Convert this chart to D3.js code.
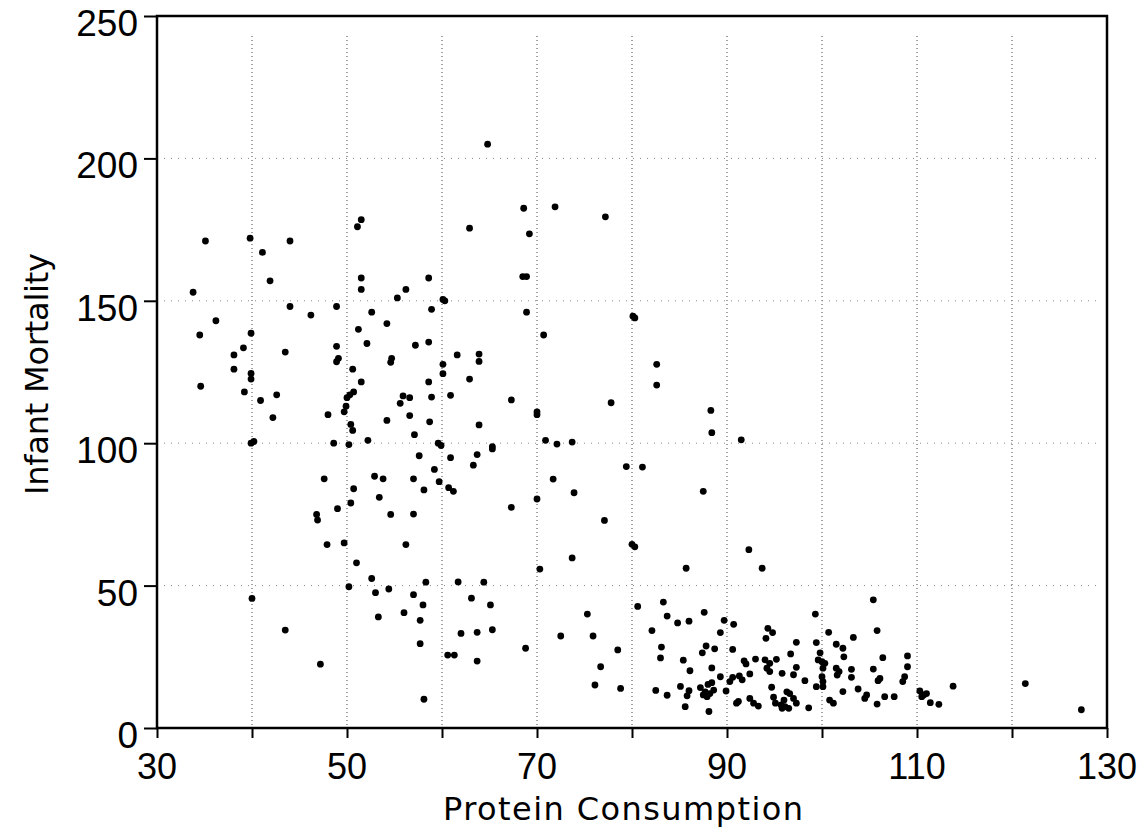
<!DOCTYPE html>
<html>
<head>
<meta charset="utf-8">
<script src="https://cdn.jsdelivr.net/npm/d3@7"></script>
<style>
  body { margin: 0; background: #fff; }
  svg { display: block; }
</style>
</head>
<body>
<svg id="chart" width="1141" height="833"></svg>
<script>
// protein consumption (x) and infant mortality (y)
const protein = [
  35.1, 39.8, 44.0, 41.1, 51.5, 51.1, 41.9, 33.8, 51.5, 51.5, 56.2, 55.3, 44.0, 48.9, 46.2, 52.6,
  54.2, 36.2, 34.5, 39.9, 51.2, 52.1, 48.9, 39.1, 38.1, 43.5, 48.9, 49.1, 54.7, 54.6, 50.6, 38.1,
  39.9, 39.9, 51.5, 34.6, 39.2, 42.6, 40.9, 50.0, 50.7, 50.3, 49.9, 49.7, 55.9, 55.6, 56.6, 42.2,
  48.0, 54.2, 50.4, 50.6,
  64.8, 68.6, 71.9, 77.2, 62.9, 69.2, 58.6, 68.5, 68.9, 60.1, 60.3, 58.9, 68.9, 80.3, 80.1, 70.7,
  57.2, 58.6, 61.6, 63.9, 63.9, 60.1, 60.1, 62.9, 58.6, 82.6, 82.6, 58.9, 56.6, 58.7, 63.9, 60.9,
  67.3, 77.8, 70.0, 70.0,
  39.9, 40.2, 48.6, 50.2, 52.2, 47.6, 52.9, 53.8, 50.7, 53.4, 50.4, 49.0, 46.8, 46.9, 54.6, 47.9,
  49.7, 56.2, 51.0, 52.6, 50.2, 53.0, 54.4, 40.0, 56.0, 53.3, 43.5, 47.2,
  57.1, 59.6, 59.9, 65.3, 65.3, 57.6, 60.9, 63.7, 63.3, 59.2, 57.0, 59.7, 60.7, 61.2, 58.1, 57.0,
  67.3, 70.9, 72.1, 73.7, 71.7, 70.0, 73.9, 77.1, 79.4, 81.1, 80.0, 80.3, 73.7, 70.3, 58.3, 61.7,
  64.4, 57.0, 58.0, 63.1, 65.1, 57.7, 62.0, 63.7, 65.3, 57.7, 60.6, 61.3, 63.7, 58.1, 68.8, 75.3,
  80.6, 72.5, 75.9, 78.5, 76.7, 76.1, 78.8, 82.5, 82.1,
  88.3, 88.4, 91.5, 87.5, 92.3, 85.7, 93.7, 83.3, 105.4,
  83.7, 84.8, 86.0, 87.6, 89.7, 90.7, 89.3, 83.1, 83.0, 83.7, 85.4, 86.1, 85.1, 85.6, 86.0, 85.8,
  87.8, 87.4, 88.7, 88.4, 89.3, 87.2, 88.0, 88.4, 87.7, 88.2, 87.9, 87.5, 88.6, 88.1, 89.9, 90.6,
  90.6, 90.3, 91.3, 91.8, 92.0, 91.6, 92.4, 93.0, 91.2, 91.0, 92.4, 92.8, 93.3, 94.3, 94.8, 94.1,
  94.0, 94.5, 95.2, 94.2, 94.5, 95.8, 94.7, 94.9, 95.1, 95.7, 96.0, 96.3, 96.6, 97.0, 97.3, 96.1,
  96.5, 95.8, 96.7, 97.3, 97.3, 97.0, 98.2, 98.6, 99.3, 99.4, 100.7, 99.8, 99.6, 100.0, 100.3, 100.1,
  100.0, 100.1, 99.4, 100.1, 100.8,
  105.8, 103.3, 101.5, 102.2, 102.3, 106.4, 109.0, 109.0, 101.5, 101.8, 101.6, 103.1, 103.1, 105.4, 106.1, 105.9,
  108.7, 108.5, 102.2, 103.8, 101.2, 104.7, 104.5, 105.8, 106.6, 107.6, 110.3, 110.7, 111.0, 110.5, 111.4, 112.3,
  113.8, 121.4, 127.3
];
const mortality = [
  171, 172, 171, 167, 178.5, 176, 157, 153, 158, 154, 154, 151, 148, 148, 145, 146,
  142, 143, 138, 138.6, 140, 135, 134, 133.5, 131, 132, 128.6, 129.8, 129.8, 128.4, 126, 126,
  124.5, 122.5, 121.5, 120, 118, 117, 115, 116, 118, 117, 113, 111, 116.6, 114, 116, 109,
  110, 108, 106.6, 104.5,
  205, 182.5, 183, 179.5, 175.5, 173.5, 158, 158.5, 158.5, 150.5, 150, 147, 146, 144, 144.6, 138,
  134.4, 135.5, 131, 131.3, 128.7, 127.7, 124.4, 122.5, 121.5, 127.7, 120.4, 116.2, 109.7, 107.5, 106.4, 116.8,
  115.2, 114.2, 111, 110,
  100, 100.6, 100, 99.5, 101, 87.5, 88.4, 87.5, 84, 81, 79, 77, 75, 73, 75, 64.4,
  65, 64.4, 58, 52.5, 49.6, 47.5, 48.8, 45.5, 40.5, 39, 34.4, 22.4,
  103, 100, 99.2, 98.8, 98, 95.6, 94.9, 96, 92.3, 90.8, 87.5, 86.5, 84.4, 83.1, 83.6, 75.1,
  77.5, 101, 99.7, 100.4, 87.4, 80.4, 82.6, 72.9, 91.8, 91.6, 64.5, 63.6, 59.7, 55.8, 51.2, 51.3,
  51.2, 46.8, 43.2, 45.6, 43.2, 37.8, 33.2, 33.6, 34.5, 29.6, 25.6, 25.6, 23.5, 10.1, 28, 40,
  42.7, 32.3, 32.3, 27.4, 21.5, 15.1, 13.9, 13.2, 34.2,
  111.5, 103.7, 101.2, 83.1, 62.6, 56.1, 56.1, 44.2, 45,
  39.3, 36.9, 37.5, 40.6, 37.8, 36.4, 33.5, 28.4, 24.6, 11.5, 23.8, 20.1, 14.6, 7.5, 13.1, 11.3,
  28.8, 26.4, 27.8, 21.1, 18.0, 14.2, 15.3, 15.9, 12.7, 12.1, 11.0, 11.6, 13.3, 5.8, 13, 27.6,
  17.8, 16.3, 18.3, 23.6, 22.5, 16.9, 19, 24.2, 9.3, 8.7, 10.4, 8.7, 7.7, 35, 33.5, 31.5,
  23.9, 22.7, 24.1, 21, 19.8, 19.2, 14.3, 10.8, 8.7, 8.1, 9.8, 12.7, 12.1, 10.4, 8.7, 7.5,
  6.9, 6.9, 26, 30.1, 21.3, 18.7, 16.6, 7.1, 40, 30, 33.6, 26.4, 23.9, 23.3, 22.7, 21,
  18, 16.3, 14.5, 14.5, 9.8,
  34.2, 31.8, 29.4, 28, 25, 24.7, 25.3, 21.5, 21, 19.8, 18.6, 20.6, 17.8, 20.7, 17.4, 16.6,
  18, 16.3, 12.8, 13.7, 8.7, 11.6, 10.4, 8.4, 11, 11, 13, 11.6, 12.1, 11, 8.9, 8.3,
  14.7, 15.6, 6.4
];

const xTicks = d3.range(30, 131, 10);
const xLabels = [30, 50, 70, 90, 110, 130];
const yTicks = [0, 50, 100, 150, 200, 250];
const xGrid = d3.range(40, 121, 10);
const yGrid = [50, 100, 150, 200];

const points = protein.map((p, i) => ({ x: p, y: mortality[i] }));

const svg = d3.select("#chart");
const plotLeft = 157, plotRight = 1107, plotTop = 16, plotBottom = 728;

const x = d3.scaleLinear().domain([30, 130]).range([plotLeft, plotRight]);
const y = d3.scaleLinear().domain([0, 250]).range([plotBottom, plotTop]);

// dotted grid
svg.append("g")
  .selectAll("line")
  .data(xGrid)
  .join("line")
  .attr("x1", d => x(d)).attr("x2", d => x(d))
  .attr("y1", plotTop + 20).attr("y2", plotBottom)
  .attr("stroke", "#444")
  .attr("stroke-width", 1)
  .attr("stroke-dasharray", "1,3");

svg.append("g")
  .selectAll("line")
  .data(yGrid)
  .join("line")
  .attr("x1", plotLeft).attr("x2", plotRight - 10)
  .attr("y1", d => y(d)).attr("y2", d => y(d))
  .attr("stroke", "#888")
  .attr("stroke-width", 1)
  .attr("stroke-dasharray", "1,6");

// frame
svg.append("rect")
  .attr("x", plotLeft).attr("y", plotTop)
  .attr("width", plotRight - plotLeft).attr("height", plotBottom - plotTop)
  .attr("fill", "none")
  .attr("stroke", "#000")
  .attr("stroke-width", 2.5);

// x axis
const xAxis = svg.append("g")
  .attr("transform", `translate(0,${plotBottom})`)
  .call(d3.axisBottom(x).tickValues(xTicks).tickSize(10).tickFormat(""));
xAxis.select(".domain").remove();
xAxis.selectAll(".tick line").attr("stroke", "#000").attr("stroke-width", 2);

svg.append("g")
  .selectAll("text")
  .data(xLabels)
  .join("text")
  .attr("x", d => x(d))
  .attr("y", 779)
  .attr("text-anchor", "middle")
  .attr("font-family", "Liberation Sans, Arial, sans-serif")
  .attr("font-size", 36)
  .attr("fill", "#000")
  .text(d => d);

// y axis
const yAxis = svg.append("g")
  .attr("transform", `translate(${plotLeft},0)`)
  .call(d3.axisLeft(y).tickValues(yTicks).tickSize(13).tickFormat(""));
yAxis.select(".domain").remove();
yAxis.selectAll(".tick line").attr("stroke", "#000").attr("stroke-width", 2);

svg.append("g")
  .selectAll("text")
  .data(yTicks)
  .join("text")
  .attr("x", 138)
  .attr("y", d => y(d) + 20)
  .attr("text-anchor", "end")
  .attr("font-family", "Liberation Sans, Arial, sans-serif")
  .attr("font-size", 37)
  .attr("fill", "#000")
  .text(d => d);

// axis titles
svg.append("text")
  .attr("x", 623)
  .attr("y", 820)
  .attr("text-anchor", "middle")
  .attr("font-family", "DejaVu Sans, sans-serif")
  .attr("font-size", 32)
  .attr("textLength", 360)
  .attr("fill", "#000")
  .text("Protein Consumption");

svg.append("text")
  .attr("transform", "translate(48,374) rotate(-90)")
  .attr("text-anchor", "middle")
  .attr("font-family", "DejaVu Sans, sans-serif")
  .attr("font-size", 32)
  .attr("textLength", 242)
  .attr("fill", "#000")
  .text("Infant Mortality");

// points
svg.append("g")
  .selectAll("circle")
  .data(points)
  .join("circle")
  .attr("cx", d => x(d.x))
  .attr("cy", d => y(d.y))
  .attr("r", 3.4)
  .attr("fill", "#000");
</script>
</body>
</html>
